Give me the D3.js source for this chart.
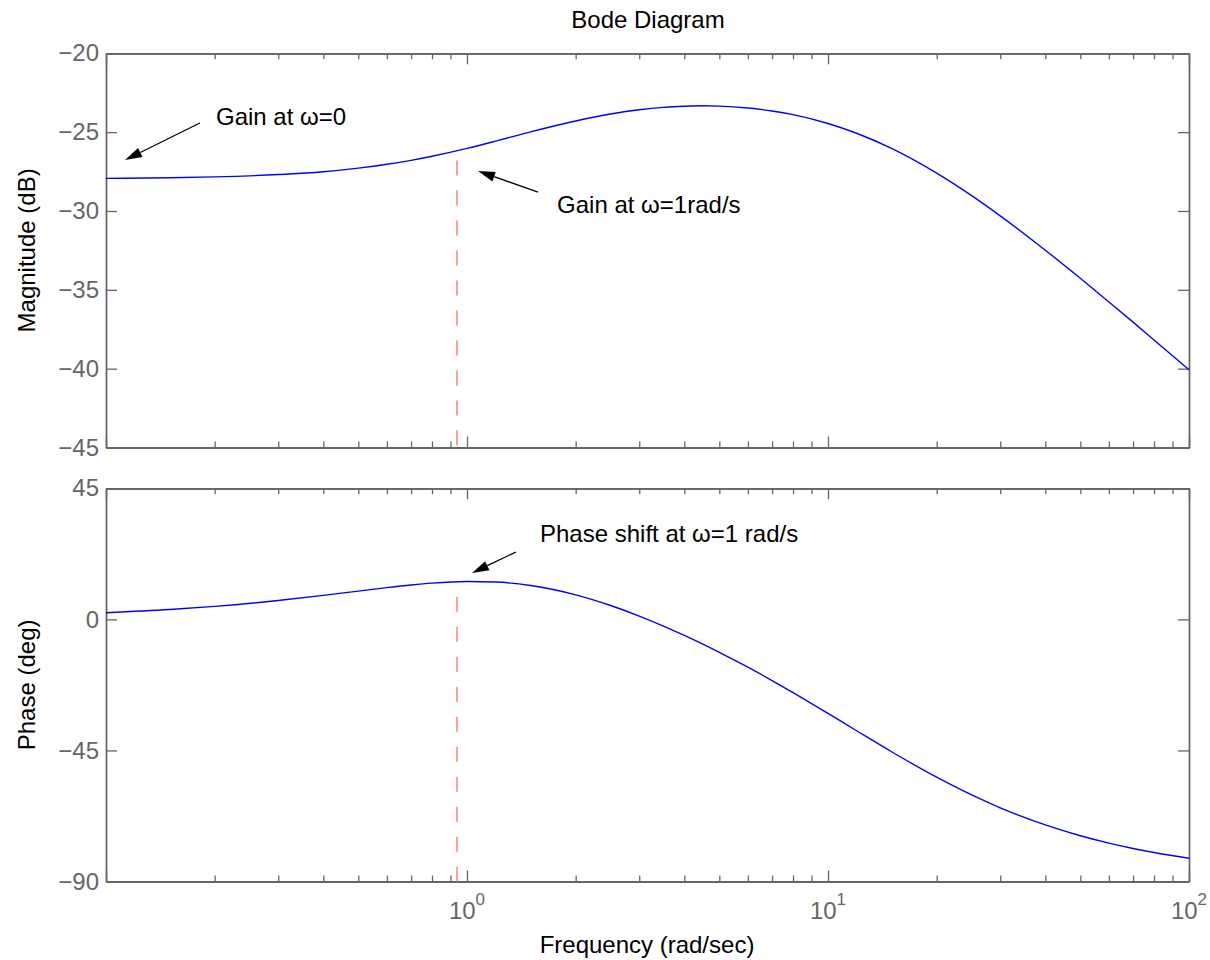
<!DOCTYPE html>
<html><head><meta charset="utf-8">
<script src="https://cdn.jsdelivr.net/npm/d3@7"></script>
<style>
body{margin:0;background:#fff}
svg{display:block}
text{font-family:"Liberation Sans",Arial,Helvetica,sans-serif}
</style>
</head><body>
<svg id="chart" width="1210" height="960"></svg>
<script>
// ---- data ----
const freq = [0.1,0.15,0.2,0.3,0.4,0.5,0.6,0.7,0.8,1,1.2,1.5,2,2.5,3,3.5,4,4.5,5,6,7,8,10,12,15,20,25,30,40,50,60,70,80,100];
const magnitudeDb = [-27.93,-27.89,-27.84,-27.69,-27.51,-27.28,-27.04,-26.79,-26.53,-26.03,-25.57,-24.98,-24.29,-23.85,-23.58,-23.43,-23.36,-23.33,-23.35,-23.47,-23.66,-23.89,-24.45,-25.07,-26.03,-27.60,-29.03,-30.31,-32.49,-34.27,-35.77,-37.05,-38.18,-40.07];
const phaseDeg = [2.28,3.38,4.46,6.46,8.22,9.71,10.90,11.80,12.43,13.00,12.81,11.63,8.43,4.76,1.14,-2.29,-5.51,-8.50,-11.31,-16.43,-21.01,-25.12,-32.28,-38.24,-45.45,-54.20,-60.29,-64.69,-70.58,-74.29,-76.82,-78.66,-80.06,-82.02];

const magTicks = [-45,-40,-35,-30,-25,-20];
const phaseTicks = [-90,-45,0,45];
const freqLabelValues = [1,10,100];
const freqLabelExponents = ["0","1","2"];

const markerFreq = 0.938;
const markerMagTop = -26.8;
const markerPhaseTop = 7.8;

// annotations: text, text anchor point, arrow tail, arrow tip (freq, value)
const magAnnotText = ["Gain at \u03c9=0", "Gain at \u03c9=1rad/s"];
const magAnnotTextPos = [[0.2017,-24.55],[1.776,-30.13]];
const magAnnotTail = [[0.182,-24.42],[1.573,-28.80]];
const magAnnotTip = [[0.1129,-26.77],[1.073,-27.47]];
const phaseAnnotText = ["Phase shift at \u03c9=1 rad/s"];
const phaseAnnotTextPos = [[1.593,26.57]];
const phaseAnnotTail = [[1.367,23.13]];
const phaseAnnotTip = [[1.032,15.93]];

// ---- layout ----
const svg = d3.select("#chart");
svg.append("rect").attr("width",1210).attr("height",960).attr("fill","#fff");
const left = 106, right = 1189;
const x = d3.scaleLog().domain([0.1,100]).range([left,right]);
const yMag = d3.scaleLinear().domain([-45,-20]).range([447.5,53.3]);
const yPh = d3.scaleLinear().domain([-90,45]).range([881.5,488.3]);
const axisColor = "#666";
const fs = 24;

const allX = x.ticks();
const majorX = allX.filter(v => Math.abs(Math.log10(v) - Math.round(Math.log10(v))) < 1e-9);
const minorX = allX.filter(v => !majorX.includes(v));

function styleAxis(g){
  g.selectAll("path.domain").attr("stroke",axisColor).attr("stroke-width",1.8);
  g.selectAll(".tick line").attr("stroke",axisColor).attr("stroke-width",1.3);
  g.selectAll(".tick text").attr("fill",axisColor).attr("font-size",fs)
    .attr("font-family",'"Liberation Sans",Arial,sans-serif');
}

function drawPanel(y, yTicks){
  const [yb, yt] = y.range();
  const g = svg.append("g");
  // curves are drawn later; draw axes
  // bottom
  g.append("g").attr("transform",`translate(0,${yb})`)
    .call(d3.axisBottom(x).tickValues(majorX).tickSizeInner(-11).tickSizeOuter(0).tickFormat(""))
    .call(styleAxis);
  g.append("g").attr("transform",`translate(0,${yb})`)
    .call(d3.axisBottom(x).tickValues(minorX).tickSizeInner(-6).tickSizeOuter(0).tickFormat(""))
    .call(styleAxis);
  // top
  g.append("g").attr("transform",`translate(0,${yt})`)
    .call(d3.axisTop(x).tickValues(majorX).tickSizeInner(-11).tickSizeOuter(0).tickFormat(""))
    .call(styleAxis);
  g.append("g").attr("transform",`translate(0,${yt})`)
    .call(d3.axisTop(x).tickValues(minorX).tickSizeInner(-6).tickSizeOuter(0).tickFormat(""))
    .call(styleAxis);
  // left
  g.append("g").attr("transform",`translate(${left},0)`)
    .call(d3.axisLeft(y).tickValues(yTicks).tickSizeInner(-11).tickSizeOuter(0).tickPadding(7).tickFormat(d3.format("d")))
    .call(styleAxis);
  // right
  g.append("g").attr("transform",`translate(${right},0)`)
    .call(d3.axisRight(y).tickValues(yTicks).tickSizeInner(-11).tickSizeOuter(0).tickFormat(""))
    .call(styleAxis);
  return g;
}

drawPanel(yMag, magTicks);
drawPanel(yPh, phaseTicks);

// marker dashed lines
svg.append("line").attr("x1",x(markerFreq)).attr("x2",x(markerFreq))
  .attr("y1",yMag(markerMagTop)).attr("y2",yMag(-45))
  .attr("stroke","#ff8080").attr("stroke-width",1.5).attr("stroke-dasharray","15,15");
svg.append("line").attr("x1",x(markerFreq)).attr("x2",x(markerFreq))
  .attr("y1",yPh(markerPhaseTop)).attr("y2",yPh(-90))
  .attr("stroke","#ff8080").attr("stroke-width",1.5).attr("stroke-dasharray","15,15");

// curves
const magLine = d3.line().x((d,i)=>x(freq[i])).y(d=>yMag(d)).curve(d3.curveMonotoneX);
const phLine = d3.line().x((d,i)=>x(freq[i])).y(d=>yPh(d)).curve(d3.curveMonotoneX);
svg.append("path").attr("d",magLine(magnitudeDb)).attr("fill","none").attr("stroke","#0000ff").attr("stroke-width",1.4);
svg.append("path").attr("d",phLine(phaseDeg)).attr("fill","none").attr("stroke","#0000ff").attr("stroke-width",1.4);

// annotations
function arrow(p0, p1){
  const [x0,y0] = p0, [x1,y1] = p1;
  const dx = x1-x0, dy = y1-y0, L = Math.hypot(dx,dy);
  const ux = dx/L, uy = dy/L;
  const hl = 17, hw = 5;
  const bx = x1-ux*hl, by = y1-uy*hl;
  svg.append("line").attr("x1",x0).attr("y1",y0).attr("x2",bx).attr("y2",by)
    .attr("stroke","#000").attr("stroke-width",1.3);
  svg.append("polygon")
    .attr("points",[[x1,y1],[bx-uy*hw,by+ux*hw],[bx+uy*hw,by-ux*hw]].map(p=>p.join(",")).join(" "))
    .attr("fill","#000");
}
magAnnotText.forEach((t,i)=>{
  svg.append("text").attr("x",x(magAnnotTextPos[i][0])).attr("y",yMag(magAnnotTextPos[i][1]))
    .attr("font-size",fs).attr("fill","#000").text(t);
  arrow([x(magAnnotTail[i][0]),yMag(magAnnotTail[i][1])],[x(magAnnotTip[i][0]),yMag(magAnnotTip[i][1])]);
});
phaseAnnotText.forEach((t,i)=>{
  svg.append("text").attr("x",x(phaseAnnotTextPos[i][0])).attr("y",yPh(phaseAnnotTextPos[i][1]))
    .attr("font-size",fs).attr("fill","#000").text(t);
  arrow([x(phaseAnnotTail[i][0]),yPh(phaseAnnotTail[i][1])],[x(phaseAnnotTip[i][0]),yPh(phaseAnnotTip[i][1])]);
});

// x tick labels (bottom panel)
freqLabelValues.forEach((v,i)=>{
  const t = svg.append("text").attr("x",x(v)).attr("y",919).attr("text-anchor","middle")
    .attr("font-size",fs).attr("fill",axisColor);
  t.append("tspan").text("10");
  t.append("tspan").attr("dy",-14).attr("font-size",17).text(freqLabelExponents[i]);
});

// titles
svg.append("text").attr("x",648).attr("y",28).attr("text-anchor","middle")
  .attr("font-size",fs).attr("fill","#000").text("Bode Diagram");
svg.append("text").attr("x",647).attr("y",953).attr("text-anchor","middle")
  .attr("font-size",fs).attr("fill","#000").text("Frequency (rad/sec)");
svg.append("text").attr("transform",`translate(35,${(yMag.range()[0]+yMag.range()[1])/2}) rotate(-90)`)
  .attr("text-anchor","middle").attr("font-size",fs).attr("fill","#000").text("Magnitude (dB)");
svg.append("text").attr("transform",`translate(35,${(yPh.range()[0]+yPh.range()[1])/2}) rotate(-90)`)
  .attr("text-anchor","middle").attr("font-size",fs).attr("fill","#000").text("Phase (deg)");
</script>
</body></html>
